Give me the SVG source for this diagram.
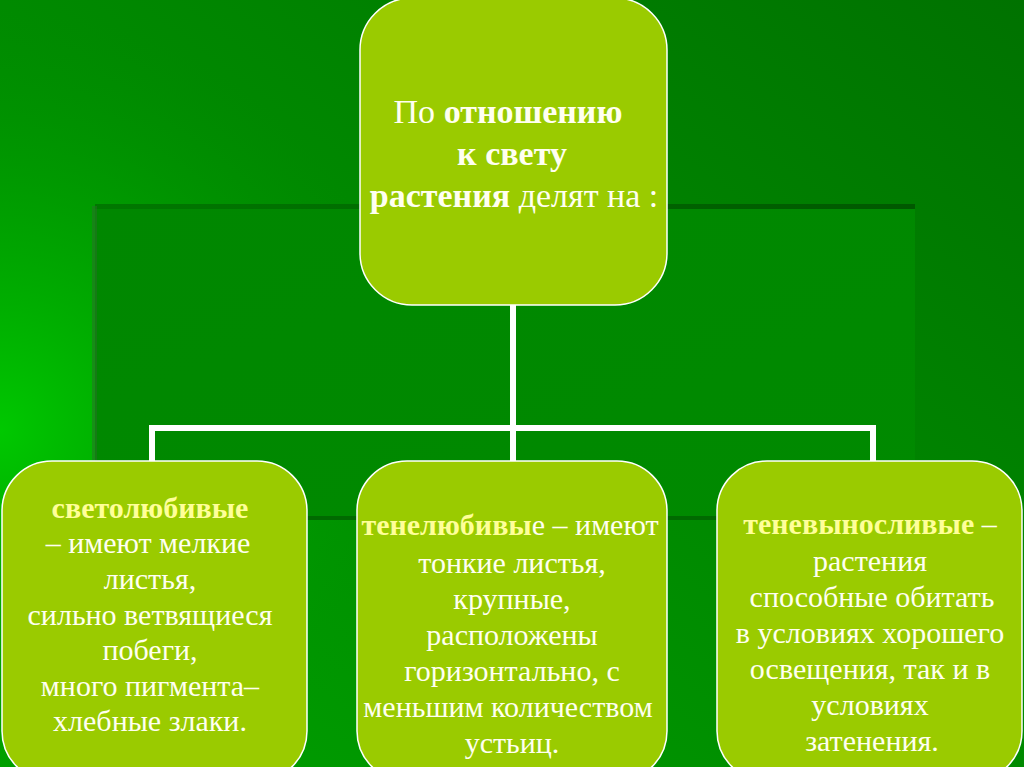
<svg xmlns="http://www.w3.org/2000/svg" width="1024" height="767" viewBox="0 0 1024 767">
<defs>
<linearGradient id="bg" x1="0" y1="1" x2="1" y2="0">
<stop offset="0" stop-color="#00a000"/>
<stop offset="0.5" stop-color="#008a00"/>
<stop offset="1" stop-color="#007200"/>
</linearGradient>
<radialGradient id="glow" cx="0" cy="430" r="420" gradientUnits="userSpaceOnUse">
<stop offset="0" stop-color="#00c800" stop-opacity="1"/>
<stop offset="0.5" stop-color="#00b000" stop-opacity="0.5"/>
<stop offset="1" stop-color="#009000" stop-opacity="0"/>
</radialGradient>
<linearGradient id="panel" x1="0" y1="0" x2="1" y2="1">
<stop offset="0" stop-color="#008700"/>
<stop offset="1" stop-color="#008a00"/>
</linearGradient>
<linearGradient id="edge" x1="0" y1="0" x2="1" y2="0">
<stop offset="0" stop-color="#007800"/>
<stop offset="1" stop-color="#005800"/>
</linearGradient>
<style>
.box{fill:#9acb00;stroke:#ffffff;stroke-width:1.5}
.t{font-family:"Liberation Serif","Times New Roman",serif;fill:#fffff0;text-anchor:middle}
.top{font-size:34px}
.low{font-size:30px}
.b{font-weight:bold}
.y{fill:#ffff99;font-weight:bold}
.conn{fill:none;stroke:#ffffff;stroke-width:6}
</style>
</defs>
<rect x="0" y="0" width="1024" height="767" fill="url(#bg)"/>
<rect x="0" y="0" width="1024" height="767" fill="url(#glow)"/>
<g id="panel-bg">
<rect x="95" y="206" width="820" height="313" fill="url(#panel)"/>
<rect x="95" y="204" width="820" height="5" fill="url(#edge)"/>
<rect x="92" y="206" width="5" height="313" fill="#2a6e2a" opacity="0.5"/>
<rect x="95" y="516" width="820" height="4" fill="#006a00"/>
</g>
<g id="connectors">
<path class="conn" d="M513 305 V428 M152 463 V428 H873 V463 M513 428 V463"/>
</g>
<g id="root">
<rect class="box" x="360" y="-2" width="307" height="307" rx="52"/>
<text class="t top" x="508" y="123">По <tspan class="b">отношению</tspan></text>
<text class="t top b" x="512" y="165">к свету</text>
<text class="t top" x="514" y="207"><tspan class="b">растения</tspan> делят на :</text>
</g>
<g id="light-loving">
<rect class="box" x="2" y="461" width="305" height="320" rx="50"/>
<text class="t low" x="150" y="518"><tspan class="y">светолюбивые</tspan></text>
<text class="t low" x="148" y="553">– имеют мелкие</text>
<text class="t low" x="150" y="589">листья,</text>
<text class="t low" x="150" y="625">сильно ветвящиеся</text>
<text class="t low" x="150" y="660">побеги,</text>
<text class="t low" x="150" y="696">много пигмента–</text>
<text class="t low" x="150" y="731">хлебные злаки.</text>
</g>
<g id="shade-loving">
<rect class="box" x="357" y="461" width="310" height="320" rx="50"/>
<text class="t low" x="510" y="535"><tspan class="y">тенелюбивы</tspan>е – имеют</text>
<text class="t low" x="512" y="573">тонкие листья,</text>
<text class="t low" x="512" y="609">крупные,</text>
<text class="t low" x="512" y="645">расположены</text>
<text class="t low" x="512" y="681">горизонтально, с</text>
<text class="t low" x="508" y="717">меньшим количеством</text>
<text class="t low" x="512" y="753">устьиц.</text>
</g>
<g id="shade-tolerant">
<rect class="box" x="717" y="461" width="305" height="320" rx="50"/>
<text class="t low" x="870" y="534"><tspan class="y">теневыносливые</tspan> –</text>
<text class="t low" x="870" y="571">растения</text>
<text class="t low" x="872" y="607">способные обитать</text>
<text class="t low" x="870" y="643">в условиях хорошего</text>
<text class="t low" x="870" y="679">освещения, так и в</text>
<text class="t low" x="870" y="715">условиях</text>
<text class="t low" x="872" y="751">затенения.</text>
</g>
</svg>
